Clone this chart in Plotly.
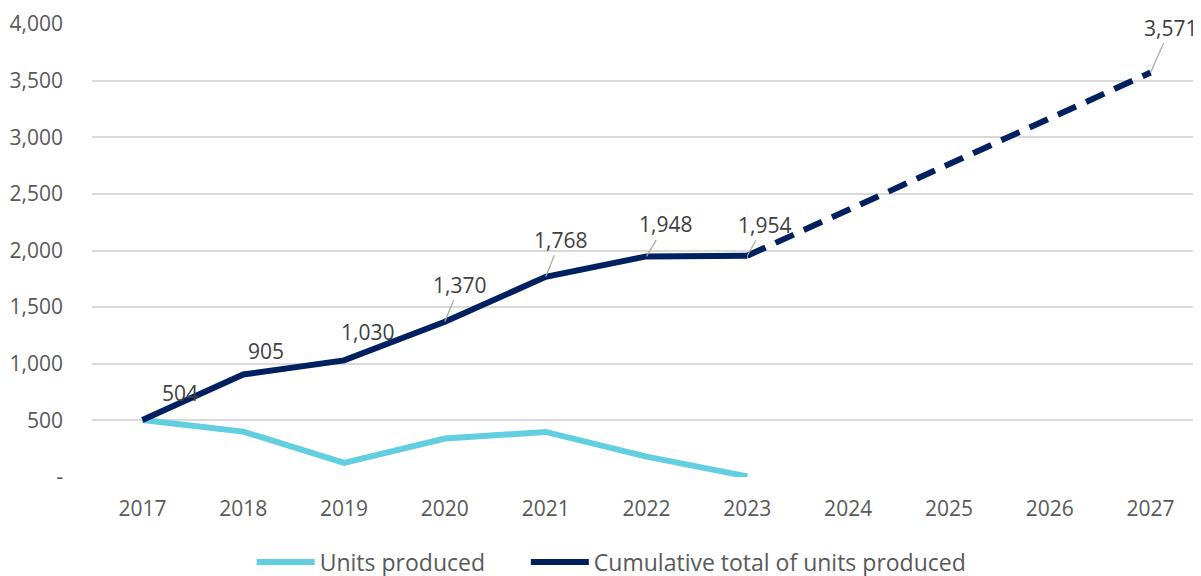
"""Units produced vs cumulative total, with projection to 2027"""

import plotly.graph_objects as go

years = ["2017", "2018", "2019", "2020", "2021", "2022", "2023", "2024", "2025", "2026", "2027"]
units_years = ["2017", "2018", "2019", "2020", "2021", "2022", "2023"]
units_produced = [504, 401, 125, 340, 398, 180, 6]
cumulative = [504, 905, 1030, 1370, 1768, 1948, 1954]
projection_years = ["2023", "2027"]
projection_values = [1954, 3571]

y_ticks = [0, 500, 1000, 1500, 2000, 2500, 3000, 3500, 4000]
y_tick_text = ["-", "500", "1,000", "1,500", "2,000", "2,500", "3,000", "3,500", "4,000"]

LIGHT = "#62CFE1"
NAVY = "#002060"
TEXT = "#595959"
FONT = "Open Sans"

fig = go.Figure()

# trailing no-break spaces widen the gap between the two legend entries
fig.add_trace(go.Scatter(x=units_years, y=units_produced, mode="lines", name="Units produced" + "\u00a0" * 6,
                         line=dict(color=LIGHT, width=6)))
fig.add_trace(go.Scatter(x=units_years, y=cumulative, mode="lines", name="Cumulative total of units produced",
                         line=dict(color=NAVY, width=6)))
fig.add_trace(go.Scatter(x=projection_years, y=projection_values, mode="lines", showlegend=False,
                         line=dict(color=NAVY, width=6, dash="20px,11px")))

# label offsets in pixels (dx, dy), leader line or not
label_x = units_years + ["2027"]
label_y = cumulative + [projection_values[-1]]
offsets = [(38, -27, False), (23, -24, False), (23, -28, False), (15, -37, True),
           (15, -37, True), (19, -32, True), (17, -31, True), (20, -45, True)]

for x, y, (dx, dy, leader) in zip(label_x, label_y, offsets):
    xi = years.index(x)
    if leader:
        fig.add_annotation(x=xi, y=y, xref="x", yref="y", text=f"{y:,}", showarrow=True, arrowhead=0,
                           arrowwidth=1.2, arrowcolor="#A6A6A6", ax=dx, ay=dy, standoff=0,
                           font=dict(family=FONT, size=21, color="#404040"))
    else:
        fig.add_annotation(x=xi, y=y, xref="x", yref="y", text=f"{y:,}", showarrow=False,
                           xshift=dx, yshift=-dy,
                           font=dict(family=FONT, size=21, color="#404040"))

fig.update_xaxes(type="category", categoryorder="array", categoryarray=years, range=[-0.5, 10.5],
                 showgrid=False, zeroline=False, showline=False, ticks="",
                 tickfont=dict(family=FONT, size=21, color=TEXT), ticklabelstandoff=17)
fig.update_yaxes(range=[0, 4000], tickvals=y_ticks, ticktext=y_tick_text, showgrid=True,
                 gridcolor="#D9D9D9", gridwidth=1.5, zeroline=False, showline=False,
                 tickfont=dict(family=FONT, size=21, color=TEXT), ticklabelstandoff=28)

# page body has an 8px margin, so the figure is shifted by 8px
fig.update_layout(
    width=1193, height=576,
    margin=dict(l=84, r=0, t=16, b=107),
    plot_bgcolor="white", paper_bgcolor="white",
    legend=dict(orientation="h", x=0.144, xanchor="left", yref="container", y=0.038, yanchor="middle",
                font=dict(family=FONT, size=23, color=TEXT), itemwidth=58),
    hovermode=False,
)

fig.write_html("out.html")
